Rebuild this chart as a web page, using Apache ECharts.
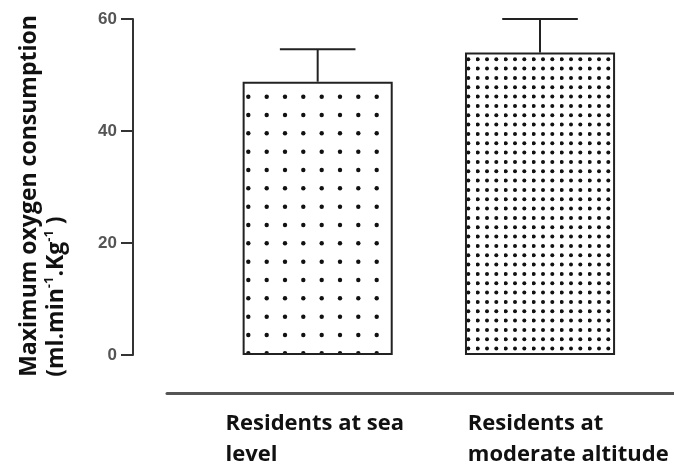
<!DOCTYPE html>
<html><head><meta charset="utf-8">
<script src="https://cdn.jsdelivr.net/npm/echarts@6/dist/echarts.min.js"></script>
<style>html,body{margin:0;padding:0;background:#fff}#c{width:674px;height:466px}</style>
</head><body><div id="c"></div>
<script>
// ---- data ----
const categories = ['Residents at sea level', 'Residents at moderate altitude'];
const labelLines = [['Residents at sea', 'level'], ['Residents at', 'moderate altitude']];
const means = [48.8, 54.0];
const sds = [5.8, 6.0];
const yMin = 0, yMax = 60, yStep = 20;

// ---- dotted fill patterns (style only) ----
function dotPattern(tile, xs, ys, r) {
  const c = document.createElement('canvas');
  c.width = tile; c.height = tile;
  const ctx = c.getContext('2d');
  ctx.fillStyle = '#fff'; ctx.fillRect(0, 0, tile, tile);
  ctx.fillStyle = '#111';
  xs.forEach(x => ys.forEach(y => {
    ctx.beginPath(); ctx.arc(x, y, r, 0, Math.PI * 2); ctx.fill();
  }));
  return c;
}
const patterns = [
  dotPattern(55, [10, 28.3, 46.7], [5, 23.3, 41.7], 2.2),
  dotPattern(28, [1.7, 11, 20.3], [3.3, 12.6, 22], 2.0)
];

const chart = echarts.init(document.getElementById('c'), null, {renderer: 'canvas'});
const FONT = 'Open Sans';
chart.setOption({
  animation: false,
  backgroundColor: '#fff',
  grid: [
    {left: 206.5, right: 22.8, top: 19, bottom: 111},
    {left: 167, right: 0, top: 393, height: 1}
  ],
  xAxis: [
    {gridIndex: 0, type: 'category', data: categories,
     axisLine: {show: false}, axisTick: {show: false}, axisLabel: {show: false}},
    {gridIndex: 1, type: 'category', data: categories,
     axisLine: {lineStyle: {color: '#555', width: 3}}, axisTick: {show: false},
     axisLabel: {
       interval: 0, margin: 15, padding: [0, 0, 0, 42],
       formatter: (v, i) => labelLines[i].map(l => '{a|' + l + '}').join('\n'),
       rich: {a: {align: 'left', fontFamily: FONT, fontWeight: 'bold', fontSize: 22, lineHeight: 31, color: '#111'}}
     }}
  ],
  yAxis: [
    {gridIndex: 0, type: 'value', min: yMin, max: yMax, interval: yStep, offset: 73.5,
     splitLine: {show: false},
     axisLine: {show: true, lineStyle: {color: '#333', width: 2}},
     axisTick: {show: true, length: 12, lineStyle: {color: '#333', width: 2}},
     axisLabel: {margin: 16, color: '#555', fontSize: 17, fontWeight: 'bold', fontFamily: 'Liberation Sans'},
     name: '{t|Maximum oxygen consumption}\n{t|(ml.min}{s|-1}{t|.Kg}{s|-1}{t| )}',
     nameLocation: 'middle', nameRotate: 90, nameGap: 63,
     nameTextStyle: {
       padding: [0, 18, 0, 0],
       rich: {
         t: {align: 'left', fontFamily: FONT, fontWeight: 'bold', fontSize: 23, lineHeight: 27, color: '#111'},
         s: {align: 'left', verticalAlign: 'top', fontFamily: FONT, fontWeight: 'bold', fontSize: 13, lineHeight: 27, color: '#111'}
       }
     }},
    {gridIndex: 1, type: 'value', show: false}
  ],
  series: [
    {type: 'bar', xAxisIndex: 0, yAxisIndex: 0, barWidth: '67.5%',
     itemStyle: {borderColor: '#222', borderWidth: 2},
     data: means.map((v, i) => ({value: v, itemStyle: {color: {image: patterns[i], repeat: 'repeat'}}}))},
    {type: 'custom', xAxisIndex: 0, yAxisIndex: 0, z: 3,
     data: means.map((m, i) => [i, m, sds[i]]),
     renderItem: (params, api) => {
       const x = api.value(0);
       const base = api.coord([x, api.value(1)]);
       const top = api.coord([x, api.value(1) + api.value(2)]);
       const half = api.size([1, 0])[0] * 0.17;
       const st = {stroke: '#222', lineWidth: 2};
       return {type: 'group', children: [
         {type: 'line', shape: {x1: base[0], y1: base[1], x2: top[0], y2: top[1]}, style: st},
         {type: 'line', shape: {x1: top[0] - half, y1: top[1], x2: top[0] + half, y2: top[1]}, style: st}
       ]};
     }}
  ]
});
</script></body></html>
